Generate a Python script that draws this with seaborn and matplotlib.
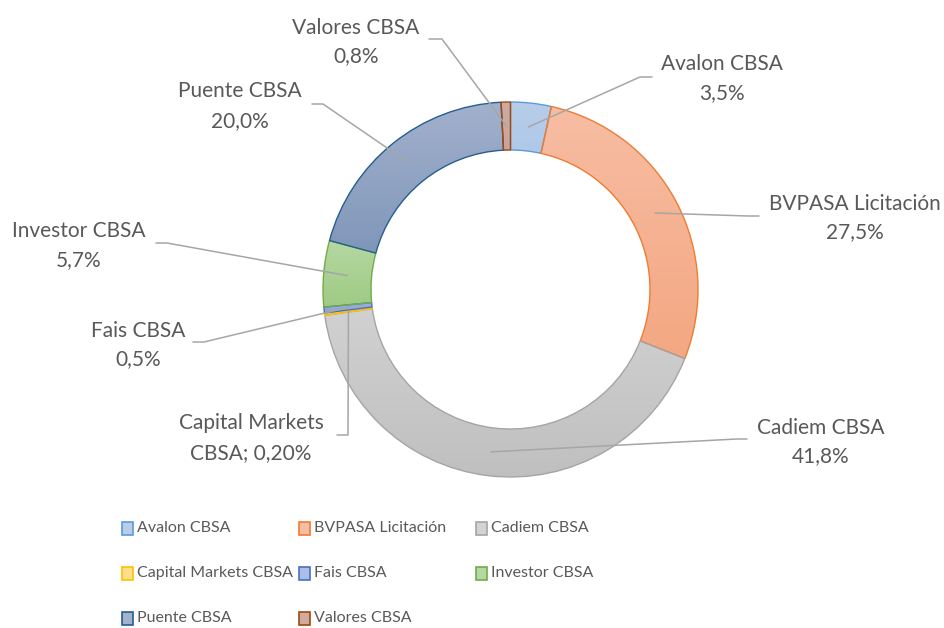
import numpy as np
import matplotlib
matplotlib.use("Agg")
import matplotlib.pyplot as plt
from matplotlib.colors import LinearSegmentedColormap
from matplotlib.patches import Rectangle
import seaborn as sns

# Datos del gráfico (participación por casa de bolsa)
names = ["Avalon CBSA", "BVPASA Licitación", "Cadiem CBSA", "Capital Markets CBSA",
         "Fais CBSA", "Investor CBSA", "Puente CBSA", "Valores CBSA"]
shares = [3.5, 27.5, 41.8, 0.2, 0.5, 5.7, 20.0, 0.8]
label_line1 = ["Avalon CBSA", "BVPASA Licitación", "Cadiem CBSA", "Capital Markets",
               "Fais CBSA", "Investor CBSA", "Puente CBSA", "Valores CBSA"]
label_line2 = ["3,5%", "27,5%", "41,8%", "CBSA; 0,20%", "0,5%", "5,7%", "20,0%", "0,8%"]

# Colores estilo Office (borde, relleno claro arriba, relleno oscuro abajo)
edge_colors = ["#5b9bd5", "#ed7d31", "#a5a5a5", "#ffc000", "#4472c4", "#70ad47", "#255e91", "#9e480e"]
top_colors = ["#b7cdea", "#f7bda3", "#d3d3d3", "#ffe08a", "#aebde6", "#b6d8a3", "#a2b1cc", "#d1aba0"]
bottom_colors = ["#9cbfe6", "#f4a782", "#bfbfbf", "#ffd24d", "#8fa3da", "#9ecb84", "#7890b5", "#bf8c7c"]

W, H = 944, 628
CX, CY, R = 510.5, 289.5, 187.5
HOLE = 0.744
TEXT = "#595959"
LEADER = "#a6a6a6"


def px(x, y):
    # pixel (desde arriba) -> coordenadas del eje
    return (x - CX) / R, (CY - y) / R


# posiciones de etiquetas en pixeles: centro x, y linea 1, y linea 2
label_pos = [(722, 64, 93), (855, 204, 232), (821, 428, 456), (251, 423, 453),
             (138, 331, 359), (79, 231, 260), (240, 91, 121), (356, 28, 56)]
# guias: inicio junto al texto, codo
leader_pts = [((652, 77), (640, 77)), ((759, 216), (748, 216)), ((747, 439), (737, 439)),
              ((337, 435), (348, 435)), ((193, 342), (204, 342)), ((156, 243), (167, 243)),
              ((312, 104), (323, 104)), ((429, 39), (442, 39))]

sns.set_theme(style="white")
plt.rcParams['font.family'] = ['Lato', 'DejaVu Sans']

fig = plt.figure(figsize=(W / 100, H / 100), dpi=100)
ax = fig.add_axes([(CX - R) / W, (H - CY - R) / H, 2 * R / W, 2 * R / H])
ax.set_axis_off()

wedges, _ = ax.pie(shares, startangle=90, counterclock=False, radius=1,
                   wedgeprops=dict(width=1 - HOLE, linewidth=1.0))

grad = np.linspace(0, 1, 256).reshape(-1, 1)
for i, w in enumerate(wedges):
    w.set_facecolor("none")
    w.set_edgecolor(edge_colors[i])
    w.set_zorder(3)
    v = w.get_path().vertices
    cmap = LinearSegmentedColormap.from_list(f"g{i}", [bottom_colors[i], top_colors[i]])
    im = ax.imshow(grad, cmap=cmap, origin="lower", aspect="auto", zorder=2,
                   extent=[v[:, 0].min(), v[:, 0].max(), v[:, 1].min(), v[:, 1].max()])
    im.set_clip_path(w)

# etiquetas con lineas guia
cum = np.cumsum([0] + shares[:-1])
for i in range(len(names)):
    theta = np.deg2rad((cum[i] + shares[i] / 2) / 100 * 360)
    rm = (1 + HOLE) / 2
    sx, sy = rm * np.sin(theta), rm * np.cos(theta)
    (ax0, ay0), (ex, ey) = leader_pts[i]
    p0 = px(ax0, ay0)
    p1 = px(ex, ey)
    ax.plot([p0[0], p1[0], sx], [p0[1], p1[1], sy], color=LEADER, lw=1.1,
            clip_on=False, zorder=4)
    lx, ly1, ly2 = label_pos[i]
    for txt, yy in [(label_line1[i], ly1), (label_line2[i], ly2)]:
        tx, ty = px(lx, yy)
        ax.text(tx, ty, txt, ha="center", va="center", fontsize=15, color=TEXT,
                clip_on=False)

ax.set_xlim(-1, 1)
ax.set_ylim(-1, 1)
ax.set_aspect("equal")

# leyenda manual en 3 columnas
leg_x = [122, 299, 476]
leg_y = [528, 573, 618]
for i, name in enumerate(names):
    x0 = leg_x[i % 3]
    y0 = leg_y[i // 3]
    fig.patches.append(Rectangle((x0 / W, 1 - (y0 + 6.5) / H), 11 / W, 13 / H,
                                 transform=fig.transFigure,
                                 facecolor=top_colors[i], edgecolor=edge_colors[i], lw=1.2))
    fig.text((x0 + 15) / W, 1 - y0 / H, name, ha="left", va="center",
             fontsize=11.5, color=TEXT)

fig.savefig("out.png", dpi=100, facecolor="white")
